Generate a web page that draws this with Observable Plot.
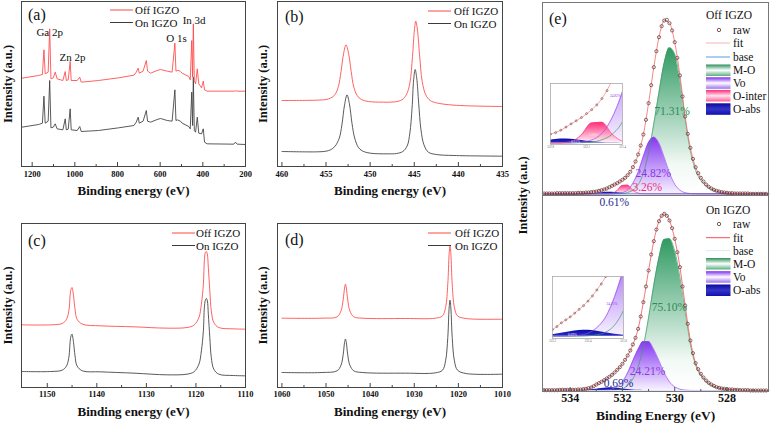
<!DOCTYPE html>
<html>
<head>
<meta charset="utf-8">
<title>IGZO XPS spectra</title>
<script src="https://cdn.jsdelivr.net/npm/d3@7"></script>
<script src="https://cdn.jsdelivr.net/npm/@observablehq/plot@0.6"></script>
<style>
  html, body { margin: 0; padding: 0; background: #fff; }
  #fig { position: relative; width: 770px; height: 424px; overflow: hidden; background: #fff; }
  #fig > svg { position: absolute; overflow: visible; }
</style>
</head>
<body>
<div id="fig"></div>
<script>
// ---------- (a) survey spectra ----------
const surveyEnergy = [1248,1170,1152,1144.8,1139,1125,1117.8,1112,1101,1092,1083,1056,1045,1040,1031,1021.9,1017,989,977,970,889,795,723,712,703,698,680,665,659,645,614,598,567,544,531,526,520,512,505,497,466,459,452,448,444.5,440,434,426,419,406,398,392,380,255,247,239,200];
const surveyOff = [265,273,276,350,278,283,413,263,266,283,263,258,285,258,260,315,258,258,268,253,258,266,274,283,295,280,286,318,286,280,288,291,286,283,370,286,288,288,285,280,270,260,378,268,428,258,248,293,248,236,256,230,226,226,227,226,226];
const surveyOn = [118,126,130,211,130,136,258,116,118,128,113,110,143,110,112,173,110,108,120,105,108,116,123,133,148,130,136,168,136,133,141,144,138,136,230,138,140,138,136,130,120,113,223,123,268,108,103,148,100,98,113,73,68,67,73,67,66];
const surveyTicks = [1200, 1000, 800, 600, 400, 200];
const surveyMinor = [1100, 900, 700, 500, 300];
const surveyPeaks = [
  {label: "Ga 2p", energy: 1118, level: 402},
  {label: "Zn 2p", energy: 1011, level: 327},
  {label: "O 1s", energy: 523, level: 384},
  {label: "In 3d", energy: 441, level: 438}
];

// ---------- (b) In 3d ----------
const in3dOffEnergy = [460,456,455,454.5,454,453.6,453.3,453,452.74,452.45,452.15,451.85,451.45,451,450.2,448.5,447.2,446.4,445.9,445.5,445.2,444.98,444.83,444.65,444.4,444.1,443.7,443.2,442.5,440.5,435];
const in3dOff = [198,199,201,205,215,240,285,340,365,340,285,238,212,201,195,193,194,200,215,250,330,410,436,412,335,255,215,198,191,184,180];
const in3dOnEnergy = [460,456,455,454.5,454,453.5,453.2,452.9,452.62,452.35,452.05,451.75,451.35,450.9,450,448,447,446.3,445.8,445.5,445.25,445.07,444.9,444.72,444.5,444.25,443.9,443.4,442.5,440.5,435];
const in3dOn = [45,44,46,50,60,85,125,185,215,188,128,85,58,47,40,38,39,45,62,100,175,260,291,265,190,112,65,43,36,33,31];
const in3dTicks = [460, 455, 450, 445, 440, 435];
const in3dMinor = [457.5, 452.5, 447.5, 442.5, 437.5];

// ---------- (c) Ga 2p ----------
const ga2pEnergy = [1155.2,1149.3,1147.0,1146.1,1145.6,1145.4,1145.2,1145.0,1144.9,1144.7,1144.4,1144.0,1142.9,1139.2,1132.5,1125.8,1121.8,1120.4,1119.4,1118.9,1118.5,1118.3,1118.1,1117.9,1117.7,1117.5,1117.2,1116.9,1116.4,1115.4,1112.4,1110.0];
const ga2pOff = [188,188,192,205,235,275,295,300,295,275,235,205,190,185,182,178,180,187,210,250,310,380,405,408,400,360,290,230,195,180,176,175];
const ga2pOn = [48,48,52,65,95,135,155,160,155,135,95,65,50,47,43,38,40,47,70,110,170,240,262,267,260,220,150,90,55,40,36,35];
const ga2pTicks = [1150, 1140, 1130, 1120, 1110];
const ga2pMinor = [1145, 1135, 1125, 1115];

// ---------- (d) Zn 2p ----------
const zn2pEnergy = [1060.0,1050.9,1047.5,1046.6,1046.1,1045.8,1045.6,1045.4,1045.1,1044.6,1043.7,1041.8,1032.0,1025.2,1023.6,1022.9,1022.4,1022.1,1021.9,1021.7,1021.4,1020.9,1020.2,1018.3,1010.0];
const zn2pOff = [208,208,212,230,265,298,310,298,265,230,212,208,207,208,215,240,310,400,425,400,310,240,215,207,205];
const zn2pOn = [45,45,50,67,100,135,145,135,100,67,50,45,43,44,52,80,150,238,262,238,150,80,52,42,40];
const zn2pTicks = [1060, 1050, 1040, 1030, 1020, 1010];
const zn2pMinor = [1055, 1045, 1035, 1025, 1015];

// ---------- (e) O 1s with peak fitting ----------
// raw scan: 0.1 eV steps from 535.0 eV
const rawStart = 535.0, rawStep = 0.1;
const rawOff = [1,1,1,1,1,2,2,2,2,2, 2,2,2,3,3,3,4,4,5,6, 7,9,11,13,16,20,24,28,32,37, 42,48,56,66,80,97,118,145,178,222, 272,326,380,428,470,503,520,522,512,490, 455,408,355,292,232,180,138,105,80,62, 48,37,28,21,16,12,9,7,5,4, 3,2,2,1,1,1,1,1,1,0, 0,0,0,0,0,0];
const rawOn = [1,1,1,1,1,1,2,2,2,2, 2,2,2,3,3,4,5,7,9,13, 18,22,26,31,36,41,47,54,62,70, 80,92,105,120,138,158,185,222,265,312, 360,408,448,483,508,524,530,524,510,487, 455,415,370,312,255,200,150,112,82,64, 50,39,30,23,18,14,10,8,6,5, 4,3,3,2,2,1,1,1,1,0, 0,0,0,0,0,0];
// fitted envelope and components: 0.2 eV steps from 535.0 eV
const compStart = 535.0, compStep = 0.2;
const fitOff = [1,1,1,2,2,2,2,3,4,5,7,11,16,24,32,42,56,80,118,178,272,380,470,520,512,455,355,232,138,80,48,28,16,9,5,3,2,1,1,1,0,0,0,0];
const moOff = [0,0,0,0,0,0,0,0,0,0,0,0,0,0,0.3,1,4,11,27,62,123,210,305,393,438,420,340,222,128,70,40,24,13,7,4,2,1,1,0,0,0,0,0,0];
const voOff = [0,0,0,0,0,0,0,0,0,0,0,0,0,0.2,1,3.7,12,32,65,112,154,170,152,109,63,29,11,3.4,0.8,0,0,0,0,0,0,0,0,0,0,0,0,0,0,0];
const ointerOff = [0,0,0,0,0,0,0,0,0,0,0,0,0.1,1.7,10,25,26,11,2.2,0.2,0,0,0,0,0,0,0,0,0,0,0,0,0,0,0,0,0,0,0,0,0,0,0,0];
const oabsOff = [0,0,0,0,0,0,0,0,0.1,0.5,1.6,3.3,4.8,4.7,3.0,1.4,0.4,0.1,0,0,0,0,0,0,0,0,0,0,0,0,0,0,0,0,0,0,0,0,0,0,0,0,0,0];
const fitOn = [1,1,1,2,2,2,2,3,5,9,18,26,36,47,62,80,105,138,185,265,360,448,508,530,510,455,370,255,150,82,50,30,18,10,6,4,3,2,1,1,0,0,0,0];
const moOn = [0,0,0,0,0,0,0,0,0,0,0,0,0,0.6,1.9,5.5,15,35,71,132,218,316,399,453,455,418,340,235,138,76,45,26,15,9,5,3,2,1,0,0,0,0,0,0];
const voOn = [0,0,0,0,0,0,0,0,0,0,0,0.3,1.2,4.1,11.6,26,53,89,123,147,147,123,89,53,26,11,4,1.2,0.3,0,0,0,0,0,0,0,0,0,0,0,0,0,0,0];
const oabsOn = [0,0,0,0,0,0,0,0.3,0.9,2.0,3.9,5.9,7.6,7.9,6.7,4.7,2.7,1.2,0.5,0.1,0,0,0,0,0,0,0,0,0,0,0,0,0,0,0,0,0,0,0,0,0,0,0,0];
const baseLevel = 0;
const sharesOff = [
  {label: "71.31%", e: 530.1, v: 247, color: "#2a8c55"},
  {label: "24.82%", e: 530.82, v: 61, color: "#8e35e6"},
  {label: "3.26%", e: 531.05, v: 19, color: "#e8307a"},
  {label: "0.61%", e: 532.31, v: -26, color: "#242e8f"}
];
const sharesOn = [
  {label: "75.10%", e: 530.2, v: 249, color: "#2a8c55"},
  {label: "24.21%", e: 531.04, v: 59, color: "#8e35e6"},
  {label: "0.69%", e: 532.15, v: 21, color: "#242e8f"}
];
const o1sTicks = [534, 532, 530, 528];
const o1sMinor = [535, 533, 531, 529, 527];
const sampleNames = ["Off IGZO", "On IGZO"];

// ---------- drawing ----------
const SERIF = "'Liberation Serif', 'Times New Roman', serif";
const plotStyle = "background: transparent; overflow: visible; font-family: 'Liberation Serif', 'Times New Roman', serif;";
const offColor = "#ff4646";
const onColor = "#3c3c3c";
const fig = document.getElementById("fig");

function pts(energy, counts) { return energy.map((e, i) => ({e, v: counts[i]})); }
function grid(values, start, step) { return values.map((v, i) => ({e: +(start - i * step).toFixed(2), v})); }
function mount(node, left, top) { node.style.left = left + "px"; node.style.top = top + "px"; fig.appendChild(node); }

// shared gradient definitions
const defsSvg = d3.create("svg").attr("width", 0).attr("height", 0).style("left", "0px").style("top", "0px");
const defs = defsSvg.append("defs");
function grad(id, stops) {
  const g = defs.append("linearGradient").attr("id", id).attr("x1", 0).attr("y1", 0).attr("x2", 0).attr("y2", 1);
  stops.forEach(([o, c]) => g.append("stop").attr("offset", o).attr("stop-color", c));
}
grad("gMO", [[0, "#2f9a62"], [0.8, "#f2f9f5"], [1, "#ffffff"]]);
grad("gVo", [[0, "#8436f2"], [1, "#f7f2ff"]]);
grad("gOi", [[0, "#ff2a78"], [1, "#fff2f7"]]);
grad("gOa", [[0, "#0b0ba8"], [1, "#2c2cc8"]]);
grad("sMO", [[0, "#2a8f57"], [0.5, "#ffffff"], [1, "#58b07e"]]);
grad("sVo", [[0, "#7c2cf0"], [0.5, "#ffffff"], [1, "#a070f0"]]);
grad("sOi", [[0, "#ff2a78"], [0.5, "#ffe4ee"], [1, "#ff5c94"]]);
grad("sOa", [[0, "#0a0a9c"], [0.5, "#3535c8"], [1, "#1010b0"]]);
mount(defsSvg.node(), 0, 0);

function spectrumPanel(cfg) {
  const [bx, by, bw, bh] = cfg.box;
  const [fl, ft, fr, fb] = cfg.frame;
  const fh = fb - ft;
  const svg = Plot.plot({
    width: bw, height: bh,
    marginLeft: fl - bx, marginRight: bx + bw - fr, marginTop: ft - by, marginBottom: by + bh - fb,
    x: {domain: cfg.xDomain, axis: null},
    y: {domain: cfg.yDomain, axis: null},
    style: plotStyle,
    marks: [
      ...cfg.series.map(s => Plot.line(pts(s.energy, s.counts), {x: "e", y: "v", stroke: s.color, strokeWidth: 0.85, curve: cfg.curve})),
      Plot.ruleX(cfg.ticks, {x: d => d, insetTop: fh - 4, stroke: "#444"}),
      Plot.ruleX(cfg.minor, {x: d => d, insetTop: fh - 2, stroke: "#444"}),
      Plot.frame({stroke: "#444", strokeWidth: 1}),
      Plot.text(cfg.ticks, {x: d => d, text: d => String(d), frameAnchor: "bottom", textAnchor: "middle", lineAnchor: "middle", dy: cfg.tickDy, fontSize: 8.5, fontWeight: "bold", fontFamily: SERIF, fill: "#111"}),
      Plot.text(["Binding energy (eV)"], {frameAnchor: "bottom", textAnchor: "middle", lineAnchor: "middle", dy: cfg.titleDy, fontSize: 13, fontWeight: "bold", fontFamily: SERIF, fill: "#111"}),
      Plot.text(["Intensity (a.u.)"], {frameAnchor: "left", textAnchor: "middle", lineAnchor: "middle", rotate: -90, dx: cfg.yDx, fontSize: 12.5, fontWeight: "bold", fontFamily: SERIF, fill: "#111"}),
      ...(cfg.extra || [])
    ]
  });
  mount(svg, bx, by);
}

spectrumPanel({
  box: [0, 0, 255, 210], frame: [21, 1, 245, 166],
  xDomain: [1250, 200], yDomain: [0, 495],
  ticks: surveyTicks, minor: surveyMinor, curve: "linear", tickDy: 8, titleDy: 24, yDx: -14,
  series: [{energy: surveyEnergy, counts: surveyOn, color: onColor}, {energy: surveyEnergy, counts: surveyOff, color: offColor}],
  extra: [Plot.text(surveyPeaks, {x: "energy", y: "level", text: "label", fontSize: 11, fontFamily: SERIF, fill: "#111"})]
});
spectrumPanel({
  box: [255, 0, 255, 210], frame: [277, 1, 502, 166],
  xDomain: [460.5, 435], yDomain: [0, 495],
  ticks: in3dTicks, minor: in3dMinor, curve: "catmull-rom", tickDy: 8, titleDy: 24, yDx: -15,
  series: [{energy: in3dOnEnergy, counts: in3dOn, color: onColor}, {energy: in3dOffEnergy, counts: in3dOff, color: offColor}]
});
spectrumPanel({
  box: [0, 210, 255, 214], frame: [21, 223, 245, 387],
  xDomain: [1155.2, 1110], yDomain: [0, 492],
  ticks: ga2pTicks, minor: ga2pMinor, curve: "catmull-rom", tickDy: 7, titleDy: 24.5, yDx: -14,
  series: [{energy: ga2pEnergy, counts: ga2pOn, color: onColor}, {energy: ga2pEnergy, counts: ga2pOff, color: offColor}]
});
spectrumPanel({
  box: [255, 210, 255, 214], frame: [277, 223, 502, 387],
  xDomain: [1061, 1010], yDomain: [0, 492],
  ticks: zn2pTicks, minor: zn2pMinor, curve: "catmull-rom", tickDy: 7, titleDy: 24.5, yDx: -15,
  series: [{energy: zn2pEnergy, counts: zn2pOn, color: onColor}, {energy: zn2pEnergy, counts: zn2pOff, color: offColor}]
});

// O 1s panels
const o1sDomain = [535.06, 526.41];
function componentMarks(list, clip) {
  const marks = [];
  for (const c of list) marks.push(Plot.areaY(grid(c.values, compStart, compStep), {x: "e", y1: 0, y2: "v", fill: c.fill, curve: "monotone-x", clip}));
  for (const c of list) if (c.stroke) marks.push(Plot.line(grid(c.values, compStart, compStep), {x: "e", y: "v", stroke: c.stroke, strokeWidth: 0.7, curve: "monotone-x", clip}));
  return marks;
}
const compsOff = [
  {values: moOff, fill: "url(#gMO)", stroke: "#3d9b68"},
  {values: voOff, fill: "url(#gVo)", stroke: "#9a4df0"},
  {values: ointerOff, fill: "url(#gOi)", stroke: "#ff3d86"},
  {values: oabsOff, fill: "url(#gOa)", stroke: null}
];
const compsOn = [
  {values: moOn, fill: "url(#gMO)", stroke: "#3d9b68"},
  {values: voOn, fill: "url(#gVo)", stroke: "#9a4df0"},
  {values: oabsOn, fill: "url(#gOa)", stroke: null}
];

const eTop = Plot.plot({
  width: 260, height: 195, marginLeft: 32, marginRight: 2, marginTop: 2, marginBottom: 0,
  x: {domain: o1sDomain, axis: null}, y: {domain: [-5, 574], axis: null},
  color: {type: "identity"},
  style: plotStyle,
  marks: [
    ...componentMarks(compsOff, false),
    Plot.ruleY([baseLevel], {stroke: "#2f62d9", strokeWidth: 0.8}),
    Plot.line(grid(fitOff, compStart, compStep), {x: "e", y: "v", stroke: "#f06a6a", strokeWidth: 0.8, curve: "monotone-x"}),
    Plot.dot(grid(rawOff, rawStart, rawStep), {x: "e", y: "v", r: 1.6, stroke: "#5b2f2f", strokeWidth: 0.7, fill: "none"}),
    Plot.text(sharesOff, {x: "e", y: "v", text: "label", fill: "color", fontSize: 11.5, fontFamily: SERIF}),
    Plot.frame({stroke: "#777", strokeWidth: 1})
  ]
});
mount(eTop, 510, 0);

const eBottom = Plot.plot({
  width: 260, height: 229, marginLeft: 32, marginRight: 2, marginTop: 0, marginBottom: 33,
  x: {domain: o1sDomain, axis: null}, y: {domain: [-3, 585], axis: null},
  color: {type: "identity"},
  style: plotStyle,
  marks: [
    ...componentMarks(compsOn, false),
    Plot.ruleY([baseLevel], {stroke: "#d6e2f6", strokeWidth: 0.8}),
    Plot.line(grid(fitOn, compStart, compStep), {x: "e", y: "v", stroke: "#ee5555", strokeWidth: 0.8, curve: "monotone-x"}),
    Plot.dot(grid(rawOn, rawStart, rawStep), {x: "e", y: "v", r: 1.6, stroke: "#5b2f2f", strokeWidth: 0.7, fill: "none"}),
    Plot.text(sharesOn, {x: "e", y: "v", text: "label", fill: "color", fontSize: 11.5, fontFamily: SERIF}),
    Plot.ruleX(o1sTicks, {x: d => d, insetTop: 196 - 4, stroke: "#555"}),
    Plot.ruleX(o1sMinor, {x: d => d, insetTop: 196 - 2, stroke: "#555"}),
    Plot.frame({stroke: "#777", strokeWidth: 1}),
    Plot.text(o1sTicks, {x: d => d, text: d => String(d), frameAnchor: "bottom", textAnchor: "middle", lineAnchor: "middle", dy: 7, fontSize: 12, fontWeight: "bold", fontFamily: SERIF, fill: "#111"}),
    Plot.text(["Binding Energy (eV)"], {frameAnchor: "bottom", textAnchor: "middle", lineAnchor: "middle", dy: 24, fontSize: 13.5, fontWeight: "bold", fontFamily: SERIF, fill: "#111"}),
    Plot.text(["Intensity (a.u.)"], {frameAnchor: "top-left", textAnchor: "middle", lineAnchor: "middle", rotate: -90, dx: -20, fontSize: 12.5, fontWeight: "bold", fontFamily: SERIF, fill: "#111"})
  ]
});
mount(eBottom, 510, 195);

// magnified low-energy-tail insets
function inset(cfg) {
  const [bx, by, bw, bh] = cfg.box;
  const svg = Plot.plot({
    width: bw, height: bh, marginLeft: 2, marginRight: 2, marginTop: 0, marginBottom: 7,
    x: {domain: cfg.xDomain, axis: null}, y: {domain: cfg.yDomain, axis: null},
    color: {type: "identity"},
    style: plotStyle,
    marks: [
      Plot.frame({fill: "white", stroke: null}),
      ...componentMarks(cfg.comps, true),
      Plot.line(grid(cfg.fit, compStart, compStep), {x: "e", y: "v", stroke: "#f06a6a", strokeWidth: 0.6, curve: "monotone-x", clip: true}),
      Plot.dot(grid(cfg.raw, rawStart, rawStep).filter(d => d.e <= cfg.xDomain[0] && d.e >= cfg.xDomain[1]), {x: "e", y: "v", r: 1, stroke: "#5b2f2f", strokeWidth: 0.5, fill: "none", clip: true}),
      Plot.text(cfg.labels, {x: "e", y: "v", text: "label", fill: "color", fontSize: 3.5, fontFamily: SERIF}),
      Plot.frame({stroke: "#aaa", strokeWidth: 0.8}),
      Plot.text(cfg.ticks, {x: d => d, text: d => d.toFixed(1), frameAnchor: "bottom", textAnchor: "middle", lineAnchor: "top", dy: 1, fontSize: 3, fontFamily: SERIF, fill: "#666"})
    ]
  });
  mount(svg, bx, by);
}
inset({
  box: [548, 83, 76, 68], xDomain: [532.8, 531.4], yDomain: [-2, 75],
  comps: compsOff, fit: fitOff, raw: rawOff, ticks: [532.8, 532.1, 531.4],
  labels: [
    {label: "24.82%", e: 531.54, v: 60, color: "#8e35e6"},
    {label: "3.26%", e: 531.97, v: 10, color: "#ffe8f0"},
    {label: "0.61%", e: 532.31, v: 1.5, color: "#e8e8ff"}
  ]
});
inset({
  box: [550, 276, 75, 69], xDomain: [533.2, 531.6], yDomain: [-3, 80],
  comps: compsOn, fit: fitOn, raw: rawOn, ticks: [533.2, 532.4, 531.6],
  labels: [
    {label: "24.21%", e: 531.86, v: 44, color: "#8e35e6"},
    {label: "0.69%", e: 532.75, v: 2, color: "#e8e8ff"}
  ]
});

// legends and panel letters
const ov = d3.create("svg").attr("width", 770).attr("height", 424)
  .style("left", "0px").style("top", "0px").style("pointer-events", "none")
  .attr("font-family", SERIF);
function legendText(x, y, s, size) {
  ov.append("text").attr("x", x).attr("y", y).attr("dominant-baseline", "central")
    .attr("font-size", size).attr("fill", "#111").text(s);
}
[[110, 10, 135], [428, 11, 454], [172, 233, 196], [428, 233, 455]].forEach(([x0, y0, tx]) => {
  [offColor, onColor].forEach((c, i) => {
    const y = y0 + i * 12.5;
    ov.append("line").attr("x1", x0).attr("x2", x0 + 23).attr("y1", y).attr("y2", y).attr("stroke", c).attr("stroke-width", 1);
    legendText(tx, y, sampleNames[i], 11);
  });
});
[["(a)", 28, 14], ["(b)", 285, 16], ["(c)", 28, 240], ["(d)", 285, 239], ["(e)", 549, 18]].forEach(([s, x, y]) => {
  ov.append("text").attr("x", x).attr("y", y).attr("dominant-baseline", "central").attr("font-size", 16).attr("fill", "#111").text(s);
});
function fitLegend(cfg) {
  legendText(706, cfg.title, cfg.name, 11.5);
  ov.append("circle").attr("cx", 719).attr("cy", cfg.raw).attr("r", 1.7).attr("fill", "none").attr("stroke", "#5b2f2f").attr("stroke-width", 0.8);
  legendText(733, cfg.raw, "raw", 11.5);
  ov.append("line").attr("x1", 706).attr("x2", 730).attr("y1", cfg.fit).attr("y2", cfg.fit).attr("stroke", cfg.fitColor).attr("stroke-width", 1);
  legendText(733, cfg.fit, "fit", 11.5);
  ov.append("line").attr("x1", 706).attr("x2", 730).attr("y1", cfg.base).attr("y2", cfg.base).attr("stroke", cfg.baseColor).attr("stroke-width", 1);
  legendText(733, cfg.base, "base", 11.5);
  cfg.swatches.forEach(([name, fill, y]) => {
    ov.append("rect").attr("x", 706).attr("y", y).attr("width", 24.5).attr("height", 11.5).attr("fill", fill);
    legendText(733, y + 5.8, name, 11.5);
  });
}
fitLegend({name: sampleNames[0], title: 15, raw: 30, fit: 43, base: 57, fitColor: "#f7b4b4", baseColor: "#5b9be8",
  swatches: [["M-O", "url(#sMO)", 64.5], ["Vo", "url(#sVo)", 77.3], ["O-inter", "url(#sOi)", 90], ["O-abs", "url(#sOa)", 103.3]]});
fitLegend({name: sampleNames[1], title: 210, raw: 224, fit: 237.7, base: 250.7, fitColor: "#f05050", baseColor: "#dce6f7",
  swatches: [["M-O", "url(#sMO)", 258], ["Vo", "url(#sVo)", 271.2], ["O-abs", "url(#sOa)", 284.5]]});
mount(ov.node(), 0, 0);
</script>
</body>
</html>
